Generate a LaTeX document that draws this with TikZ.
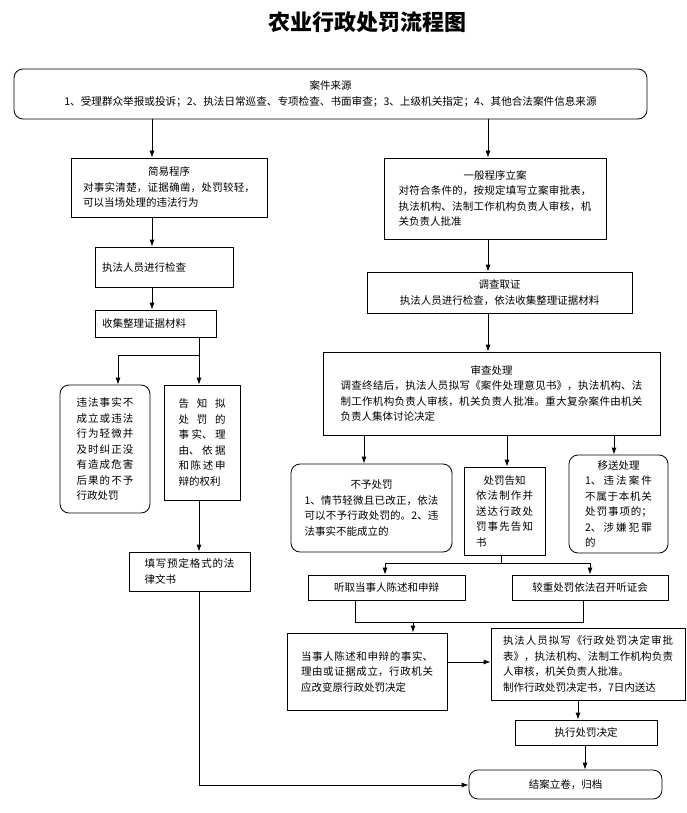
\documentclass[tikz,border=0pt]{standalone}
\usepackage{fontspec}
\setmainfont{Noto Sans CJK SC}
\XeTeXlinebreaklocale "zh"
\XeTeXlinebreakskip=0pt plus 3pt
\usetikzlibrary{arrows.meta}
\newcommand\ctr[1]{\hbox to\hsize{\hfil#1\hfil}}
\newcommand\bx[7]{\node[minimum width={#4pt-#2pt},minimum height={#5pt-#3pt},text width={#4pt-#2pt-14pt},#6] (#1) at ({(#2+#4)/2},{(#3+#5)/2}) {#7};}
\begin{document}
\begin{tikzpicture}[x=1pt,y=-1pt,
  box/.style={draw,line width=0.8pt,inner sep=0pt,font=\fontsize{10.5}{15.5}\selectfont,align=justify},
  rbox/.style={box,rounded corners=9pt},
  arr/.style={-{Latex[length=7pt,width=5pt]},line width=0.8pt},
  ln/.style={line width=0.8pt}]
\useasboundingbox (0,0) rectangle (687,813);
\node[font=\fontsize{22}{24}\selectfont\bfseries] (title) at (367,22) {农业行政处罚流程图};
\bx{top}{14}{69}{647}{119}{rbox}{\ctr{案件来源}\par\hbox to\hsize{\hss\fontsize{10.6}{15}\selectfont 1、受理群众举报或投诉；2、执法日常巡查、专项检查、书面审查；3、上级机关指定；4、其他合法案件信息来源\hss}}
\bx{jianyi}{71}{158}{267}{217}{box,text width=172pt}{\ctr{简易程序}\par 对事实清楚，证据确凿，处罚较轻，可以当场处理的违法行为}
\bx{yiban}{384}{158}{606}{239}{box,text width=193pt}{\ctr{一般程序立案}\par 对符合条件的，按规定填写立案审批表，执法机构、法制工作机构负责人审核，机关负责人批准}
\bx{jiancha}{95}{247}{233}{287}{box}{执法人员进行检查}
\bx{diaocha}{367}{272}{632}{313}{box}{\ctr{调查取证}\par\ctr{执法人员进行检查，依法收集整理证据材料}}
\bx{shouji}{95}{310}{216}{337}{box}{收集整理证据材料}
\bx{weifa}{60}{385}{150}{513}{rbox,text width=57pt}{违法事实不成立或违法行为轻微并及时纠正没有造成危害后果的不予行政处罚}
\bx{gaozhi}{164}{385}{240}{500}{box,text width=47pt}{告知拟处罚的事实、理由、依据和陈述申辩的权利}
\bx{tianxie}{129}{552}{250}{591}{box,text width=90pt}{填写预定格式的法律文书}
\bx{shencha}{323}{352}{660}{435}{box,text width=302pt}{\ctr{审查处理}\par 调查终结后，执法人员拟写《案件处理意见书》，执法机构、法制工作机构负责人审核，机关负责人批准。重大复杂案件由机关负责人集体讨论决定}
\bx{buyu}{291}{464}{452}{552}{rbox,text width=134pt}{\ctr{不予处罚}\par 1、情节轻微且已改正，依法可以不予行政处罚的。2、违法事实不能成立的}
\bx{cfgz}{464}{467}{545}{555}{box,text width=57pt}{\ctr{处罚告知}\par 依法制作并送达行政处罚事先告知书}
\bx{yisong}{569}{455}{668}{553}{rbox,text width=67pt}{\ctr{移送处理}\par 1、违法案件不属于本机关处罚事项的；2、涉嫌犯罪的}
\bx{tingqu}{308}{575}{465}{600}{box}{\ctr{听取当事人陈述和申辩}}
\bx{jiaozhong}{512}{575}{668}{600}{box}{\ctr{较重处罚依法召开听证会}}
\bx{dangshi}{287}{633}{447}{710}{box,text width=132pt}{当事人陈述和申辩的事实、理由或证据成立，行政机关应改变原行政处罚决定}
\bx{nixie}{491}{628}{685}{700}{box,text width=170pt}{执法人员拟写《行政处罚决定审批表》，执法机构、法制工作机构负责人审核，机关负责人批准。\par 制作行政处罚决定书，7日内送达}
\bx{zhixing}{515}{720}{657}{745}{box}{\ctr{执行处罚决定}}
\bx{jiean}{469}{770}{662}{799}{rbox}{\ctr{结案立卷，归档}}
\coordinate (xa) at (152,0);
\coordinate (xb) at (488,0);
\coordinate (xc) at (199,0);
\coordinate (xl) at (118,0);
\coordinate (yb) at (0,355);
\coordinate (x1) at (364,0);
\coordinate (x2) at (507,0);
\coordinate (x3) at (614,0);
\coordinate (x4) at (501,0);
\coordinate (yc) at (0,563);
\coordinate (x5) at (385,0);
\coordinate (x6) at (590,0);
\coordinate (x7) at (355,0);
\coordinate (x8) at (583,0);
\coordinate (yd) at (0,622);
\coordinate (x9) at (413,0);
\coordinate (ye) at (0,662);
\coordinate (x10) at (578,0);
\coordinate (x11) at (585,0);
\coordinate (yf) at (0,785);
\draw[arr] (top.south -| xa) -- (jianyi.north -| xa);
\draw[arr] (top.south -| xb) -- (yiban.north -| xb);
\draw[arr] (jianyi.south -| xa) -- (jiancha.north -| xa);
\draw[arr] (jiancha.south -| xa) -- (shouji.north -| xa);
\draw[arr] (shouji.south -| xc) -- (xc |- yb) -| (weifa.north -| xl);
\draw[arr] (xc |- yb) -- (gaozhi.north -| xc);
\draw[arr] (gaozhi.south -| xc) -- (tianxie.north -| xc);
\draw[arr] (tianxie.south -| xc) |- (jiean.west |- yf);
\draw[arr] (yiban.south -| xb) -- (diaocha.north -| xb);
\draw[arr] (diaocha.south -| xb) -- (shencha.north -| xb);
\draw[arr] (shencha.south -| x1) -- (buyu.north -| x1);
\draw[arr] (shencha.south -| x2) -- (cfgz.north -| x2);
\draw[arr] (shencha.south -| x3) -- (yisong.north -| x3);
\draw[ln] (cfgz.south -| x4) -- (x4 |- yc);
\draw[arr] (x4 |- yc) -| (tingqu.north -| x5);
\draw[arr] (x4 |- yc) -| (jiaozhong.north -| x6);
\draw[ln] (tingqu.south -| x7) |- (x8 |- yd) -- (jiaozhong.south -| x8);
\draw[arr] (x9 |- yd) -- (dangshi.north -| x9);
\draw[arr] (dangshi.east |- ye) -- (nixie.west |- ye);
\draw[arr] (nixie.south -| x10) -- (zhixing.north -| x10);
\draw[arr] (zhixing.south -| x11) -- (jiean.north -| x11);
\end{tikzpicture}
\end{document}
